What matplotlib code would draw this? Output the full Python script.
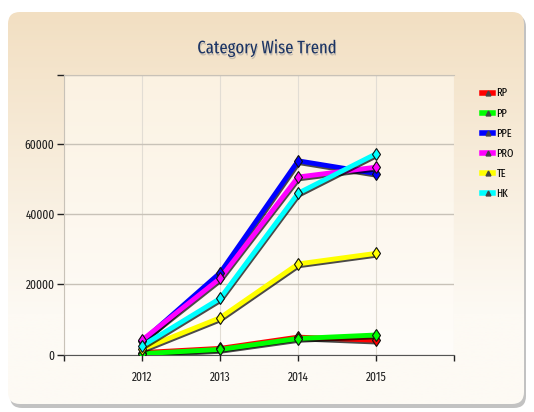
import numpy as np
import matplotlib
matplotlib.use("Agg")
import matplotlib.pyplot as plt
import matplotlib.patheffects as pe
from matplotlib.patches import FancyBboxPatch
from matplotlib.lines import Line2D

plt.rcParams['font.family'] = ['Fira Sans Extra Condensed', 'DejaVu Sans']

# data
years = [2012, 2013, 2014, 2015]
rp = [600, 1800, 5000, 4100]
pp = [300, 1500, 4600, 5600]
ppe = [3800, 23300, 55100, 51500]
pro = [4200, 21700, 50500, 53300]
te = [1600, 10500, 25800, 28800]
hk = [2500, 16000, 45900, 57100]

series = [("RP", rp, "#ff0000"), ("PP", pp, "#00ff00"), ("PPE", ppe, "#0000ff"),
          ("PRO", pro, "#ff00ff"), ("TE", te, "#ffff00"), ("HK", hk, "#00ffff")]

fig = plt.figure(figsize=(5.34, 4.12), dpi=100)
fig.patch.set_facecolor("white")

# outer rounded panel with gradient + shadow
bg = fig.add_axes([0, 0, 1, 1])
bg.set_xlim(0, 534)
bg.set_ylim(412, 0)
bg.axis("off")
shadow = FancyBboxPatch((10, 15), 516, 393, boxstyle="round,pad=0,rounding_size=12",
                        fc="#9a9a9a", ec="none", alpha=0.6)
bg.add_patch(shadow)
panel = FancyBboxPatch((8, 12), 516, 392, boxstyle="round,pad=0,rounding_size=12",
                       fc="none", ec="none")
bg.add_patch(panel)
top_c = np.array([242, 223, 194]) / 255
bot_c = np.array([253, 250, 244]) / 255
t = np.linspace(0, 1, 256)[:, None]
g = np.clip(t * 1.3, 0, 1)
img = top_c[None, None, :] * (1 - g[:, :, None]) + bot_c[None, None, :] * g[:, :, None]
im = bg.imshow(img, extent=[8, 524, 404, 12], aspect="auto", zorder=1)
im.set_clip_path(panel)

bg.text(267, 48, "Category Wise Trend", ha="center", va="center", fontsize=13,
        color="#1c3464",
        path_effects=[pe.withSimplePatchShadow(offset=(0.6, -1.5), shadow_rgbFace="#999999", alpha=0.5)])

ax = fig.add_axes([64.3 / 534, 1 - 354.7 / 412, (454 - 64.3) / 534, (354.7 - 75) / 412])
ax.set_facecolor("none")
pc_top = np.array([251, 242, 226]) / 255
pc_bot = np.array([255, 253, 250]) / 255
g2 = np.linspace(0, 1, 256)[:, None]
img2 = pc_top[None, None, :] * (1 - g2[:, :, None]) + pc_bot[None, None, :] * g2[:, :, None]
ax.imshow(img2, extent=[0, 1, 0, 1], transform=ax.transAxes, aspect="auto", zorder=0)

for name, vals, col in series:
    ax.plot(years, vals, color=col, lw=3.5, zorder=3, solid_capstyle="round",
            path_effects=[pe.SimpleLineShadow(offset=(0.6, -1.3), shadow_color="black", alpha=0.7),
                          pe.Normal()])
    ax.plot(years, vals, ls="none", marker="d", markersize=6, color=col,
            markeredgecolor="#111111", markeredgewidth=0.8, zorder=4)

ax.set_xlim(2011, 2016)
ax.set_ylim(0, 79500)
ax.set_xticks([2011, 2012, 2013, 2014, 2015, 2016])
ax.set_xticklabels(["", "2012", "2013", "2014", "2015", ""])
ax.set_yticks([0, 20000, 40000, 60000, 79500])
ax.set_yticklabels(["0", "20000", "40000", "60000", ""])
ax.tick_params(axis="both", labelsize=9, colors="#222222", length=5, width=1)
ax.tick_params(axis="x", length=4, pad=8)
ax.tick_params(axis="y", pad=2)
ax.grid(axis="y", color="#c8c2b8", lw=1, zorder=1)
ax.grid(axis="x", color="#e2ddd4", lw=0.8, zorder=1)
ax.spines["left"].set_color("#c8c2b8")
ax.spines["bottom"].set_color("#555555")
ax.spines["top"].set_color("#c8c2b8")
ax.spines["right"].set_visible(False)

handles = [Line2D([0], [0], color=col, lw=4, marker="^", markersize=3.5,
                  markerfacecolor="#444444", markeredgecolor="#444444")
           for _, _, col in series]
leg = fig.legend(handles, [s[0] for s in series], loc="upper left",
                 bbox_to_anchor=(472 / 534, 1 - 78 / 412), frameon=False,
                 fontsize=8, handlelength=1.0, handletextpad=0.3, labelspacing=0.85)

fig.savefig("out.png", dpi=100)
